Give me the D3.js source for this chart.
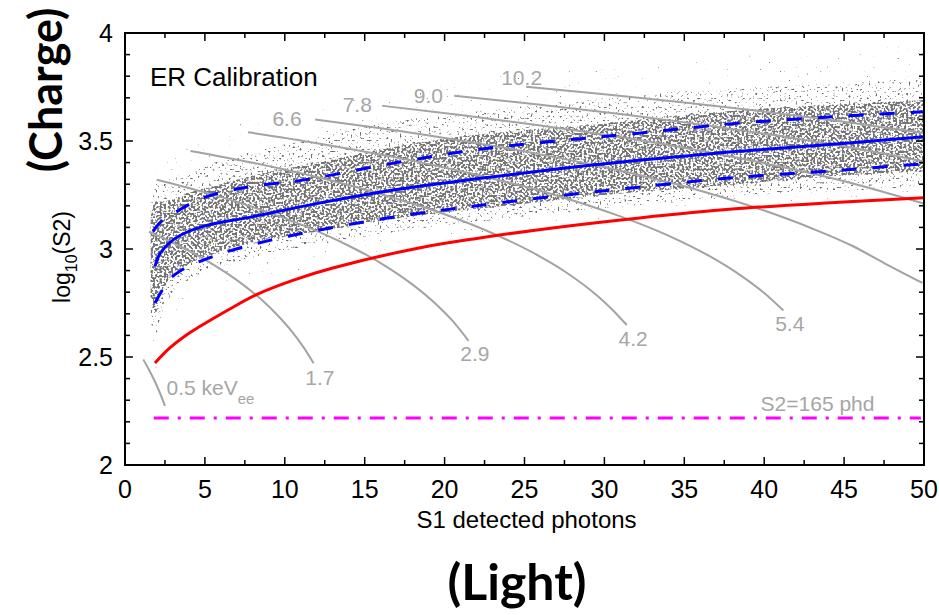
<!DOCTYPE html>
<html>
<head>
<meta charset="utf-8">
<script src="https://cdn.jsdelivr.net/npm/d3@7"></script>
<style>
  body { margin: 0; background: #fff; }
  text { font-family: "Liberation Sans", Arial, Helvetica, sans-serif; }
</style>
</head>
<body>
<svg id="chart" width="939" height="615"></svg>
<script>
// ---- values (x = S1 phd, y = log10 S2) ----

// ER band: mean and the two dashed lines
var meanS1 = [1.875, 2.2, 2.8, 3.5, 4.9, 8, 12, 17, 22, 27, 32, 38, 44.7, 50];
var meanY  = [2.92, 2.98, 3.03, 3.065, 3.105, 3.15, 3.21, 3.275, 3.325, 3.37, 3.41, 3.45, 3.487, 3.52];
var upS1   = [1.75, 2.3, 3.4, 4.5, 5.9, 8, 11.2, 17, 22, 27, 32, 38, 44.7, 50];
var upY    = [3.08, 3.13, 3.18, 3.225, 3.26, 3.29, 3.32, 3.40, 3.46, 3.50, 3.535, 3.58, 3.614, 3.635];
var loS1   = [1.875, 2.8, 3.6, 4.7, 6.5, 8.5, 11.2, 17, 22, 27, 32, 38, 44.7, 50];
var loY    = [2.75, 2.86, 2.905, 2.943, 2.99, 3.03, 3.074, 3.15, 3.20, 3.245, 3.285, 3.33, 3.364, 3.395];

// red line (NR median)
var redS1 = [1.875, 2.8, 3.8, 4.7, 6.5, 8.2, 10.5, 13, 18.4, 22.2, 27, 32.2, 38, 44.7, 50];
var redY  = [2.472, 2.542, 2.60, 2.642, 2.72, 2.788, 2.855, 2.912, 3.005, 3.051, 3.10, 3.144, 3.185, 3.216, 3.237];

// extent of the calibration point cloud (outer sparse, medium, dense core)
var cloudS1  = [1.6, 1.9, 2.3, 3, 4, 6, 8, 12, 16, 20, 25, 30, 35, 40, 45, 50];
var outerHi  = [3.30, 3.38, 3.40, 3.45, 3.50, 3.57, 3.62, 3.66, 3.72, 3.77, 3.82, 3.85, 3.88, 3.90, 3.93, 3.95];
var outerLo  = [2.55, 2.42, 2.52, 2.68, 2.76, 2.82, 2.85, 2.92, 2.98, 3.02, 3.06, 3.10, 3.13, 3.16, 3.18, 3.20];
var midHi    = [3.22, 3.30, 3.31, 3.33, 3.36, 3.41, 3.45, 3.52, 3.58, 3.62, 3.66, 3.70, 3.73, 3.75, 3.77, 3.79];
var midLo    = [2.68, 2.60, 2.70, 2.80, 2.86, 2.92, 2.96, 3.02, 3.07, 3.11, 3.15, 3.19, 3.22, 3.25, 3.27, 3.29];
var coreHi   = [3.14, 3.22, 3.22, 3.23, 3.26, 3.30, 3.34, 3.40, 3.46, 3.51, 3.55, 3.58, 3.62, 3.65, 3.67, 3.69];
var coreLo   = [2.78, 2.70, 2.80, 2.88, 2.93, 2.99, 3.03, 3.08, 3.13, 3.17, 3.21, 3.25, 3.28, 3.31, 3.34, 3.36];

// constant-energy contours (keVee), [S1, log10 S2] points along each grey curve
var energyNames = ["0.5", "1.7", "2.9", "4.2", "5.4", "6.6", "7.8", "9.0", "10.2"];
var e05  = [[1.15, 2.488], [1.5, 2.441], [1.9, 2.382], [2.2, 2.331], [2.5, 2.274]];
var e17  = [[1.5, 3.080], [3, 3.029], [5, 2.951], [7, 2.856], [8.5, 2.768], [9.5, 2.697], [10.5, 2.613], [11.2, 2.542], [11.8, 2.471]];
var e29  = [[2, 3.321], [5, 3.262], [8, 3.194], [11, 3.114], [14, 3.015], [16, 2.935], [18, 2.835], [19.5, 2.742], [20.5, 2.667], [21.5, 2.575]];
var e42  = [[4.1, 3.454], [8, 3.399], [12, 3.333], [16, 3.255], [20, 3.161], [23, 3.073], [25.5, 2.984], [27.5, 2.897], [29.5, 2.787], [30.5, 2.719], [31.4, 2.648]];
var e54  = [[7.7, 3.540], [12, 3.490], [17, 3.423], [22, 3.344], [27, 3.248], [31, 3.151], [34, 3.062], [36.5, 2.970], [38.5, 2.879], [40, 2.796], [41.2, 2.715]];
var e66  = [[11.9, 3.600], [16, 3.559], [21, 3.502], [26, 3.438], [31, 3.362], [36, 3.270], [40, 3.178], [43, 3.095], [45.5, 3.015], [47.5, 2.935], [49.9, 2.843]];
var e78  = [[16.1, 3.663], [21, 3.620], [26, 3.572], [31, 3.518], [36, 3.455], [41, 3.382], [45, 3.314], [50, 3.210]];
var e90  = [[20.6, 3.710], [26, 3.668], [31, 3.625], [36, 3.577], [41, 3.523], [46, 3.462], [50, 3.405]];
var e102 = [[25.1, 3.751], [30, 3.716], [35, 3.678], [40, 3.636], [45, 3.589], [50, 3.537]];
var contours = [e05, e17, e29, e42, e54, e66, e78, e90, e102];

// where each contour label sits (S1, log10 S2) and how it is anchored
var labelS1     = [2.6, 12.2, 21.9, 31.8, 41.6, 11.05, 15.45, 19.9, 26.1];
var labelY      = [2.326, 2.372, 2.48, 2.55, 2.622, 3.57, 3.632, 3.678, 3.76];
var labelAnchor = ["start", "middle", "middle", "middle", "middle", "end", "end", "end", "end"];

// S2 threshold line
var s2Threshold = 165;
var threshS1 = [1.8, 49.8];

// axis ticks
var xMajor = [0, 5, 10, 15, 20, 25, 30, 35, 40, 45, 50];
var yMajor = [2, 2.5, 3, 3.5, 4];

// ---- drawing ----
var L = 125, R = 924, T = 33, B = 465;

var svg = d3.select("#chart");
var x = d3.scaleLinear().domain([0, 50]).range([L, R]);
var y = d3.scaleLinear().domain([2, 4]).range([B, T]);

var defs = svg.append("defs");
defs.append("clipPath").attr("id", "plotclip")
  .append("rect").attr("x", L).attr("y", T).attr("width", R - L).attr("height", B - T);

// speckle filters: noise thresholded inside the band shape -> dotted look
function speckle(id, thresh, grey, seed) {
  var f = defs.append("filter").attr("id", id)
    .attr("x", 0).attr("y", 0).attr("width", 1).attr("height", 1)
    .attr("color-interpolation-filters", "sRGB");
  f.append("feTurbulence").attr("type", "fractalNoise")
    .attr("baseFrequency", 0.45).attr("numOctaves", 1).attr("seed", seed).attr("result", "n");
  var k = 10;
  f.append("feColorMatrix").attr("in", "n").attr("type", "matrix")
    .attr("values", "0 0 0 0 " + grey + " 0 0 0 0 " + grey + " 0 0 0 0 " + grey + " " + k + " 0 0 0 " + (-k * thresh))
    .attr("result", "d");
  f.append("feComposite").attr("in", "d").attr("in2", "SourceGraphic").attr("operator", "in");
}
speckle("spkOuter", 0.73, 0.42, 5);
speckle("spkMid", 0.62, 0.43, 5);
speckle("spkCore", 0.45, 0.46, 5);

var plot = svg.append("g").attr("clip-path", "url(#plotclip)");

function band(hi, lo) {
  return d3.area().curve(d3.curveMonotoneX)
    .x(function(d, i) { return x(cloudS1[i]); })
    .y0(function(d, i) { return y(lo[i]); })
    .y1(function(d, i) { return y(hi[i]); })(cloudS1);
}
plot.append("path").attr("d", band(outerHi, outerLo)).attr("fill", "#000").attr("filter", "url(#spkOuter)");
plot.append("path").attr("d", band(midHi, midLo)).attr("fill", "#000").attr("filter", "url(#spkMid)");
plot.append("path").attr("d", band(coreHi, coreLo)).attr("fill", "#000").attr("filter", "url(#spkCore)");

var line = d3.line().curve(d3.curveMonotoneX)
  .x(function(d) { return x(d[0]); })
  .y(function(d) { return y(d[1]); });
var smooth = d3.line().curve(d3.curveCatmullRom.alpha(0.5))
  .x(function(d) { return x(d[0]); })
  .y(function(d) { return y(d[1]); });

function zipXY(a, b) { return a.map(function(v, i) { return [v, b[i]]; }); }

// energy contours
plot.selectAll("path.contour").data(contours).enter().append("path")
  .attr("class", "contour")
  .attr("d", line)
  .attr("fill", "none").attr("stroke", "#a3a3a3").attr("stroke-width", 2);

// red curve
plot.append("path").attr("d", smooth(zipXY(redS1, redY)))
  .attr("fill", "none").attr("stroke", "#ff0000").attr("stroke-width", 3);

// ER band lines
plot.append("path").attr("d", smooth(zipXY(upS1, upY)))
  .attr("fill", "none").attr("stroke", "#0000ff").attr("stroke-width", 3).attr("stroke-dasharray", "15,16");
plot.append("path").attr("d", smooth(zipXY(loS1, loY)))
  .attr("fill", "none").attr("stroke", "#0000ff").attr("stroke-width", 3).attr("stroke-dasharray", "15,16");
plot.append("path").attr("d", smooth(zipXY(meanS1, meanY)))
  .attr("fill", "none").attr("stroke", "#0000ff").attr("stroke-width", 3);

// S2 threshold
var ty = Math.log10(s2Threshold);
plot.append("line")
  .attr("x1", x(threshS1[0])).attr("x2", x(threshS1[1]))
  .attr("y1", y(ty)).attr("y2", y(ty))
  .attr("stroke", "#ff00ff").attr("stroke-width", 3)
  .attr("stroke-dasharray", "15,9,3,9");

// contour labels
var lab = svg.append("g").attr("fill", "#a6a6a6").attr("font-size", 21);
energyNames.forEach(function(name, i) {
  var t = lab.append("text")
    .attr("x", x(labelS1[i])).attr("y", y(labelY[i]))
    .attr("text-anchor", labelAnchor[i]);
  if (i === 0) {
    t.text(name + " keV");
    t.append("tspan").attr("font-size", 15).attr("dy", 9).text("ee");
  } else {
    t.text(name);
  }
});
lab.append("text").attr("x", x(46.9)).attr("y", y(ty) - 7).attr("text-anchor", "end")
  .text("S2=" + s2Threshold + " phd");

// frame and ticks (inward, all four sides)
var axes = svg.append("g");
axes.append("rect").attr("x", L).attr("y", T).attr("width", R - L).attr("height", B - T)
  .attr("fill", "none").attr("stroke", "#000").attr("stroke-width", 2);

var xTicks = d3.range(0, 50.01, 2.5);
var yTicks = d3.range(2, 4.001, 0.1);
xTicks.forEach(function(v) {
  var len = (v % 5 === 0) ? 8 : 5;
  axes.append("line").attr("x1", x(v)).attr("x2", x(v)).attr("y1", B).attr("y2", B - len).attr("stroke", "#000").attr("stroke-width", 1.5);
  axes.append("line").attr("x1", x(v)).attr("x2", x(v)).attr("y1", T).attr("y2", T + len).attr("stroke", "#000").attr("stroke-width", 1.5);
});
yTicks.forEach(function(v) {
  var major = Math.abs(v * 2 - Math.round(v * 2)) < 1e-6;
  var len = major ? 8 : 5;
  axes.append("line").attr("x1", L).attr("x2", L + len).attr("y1", y(v)).attr("y2", y(v)).attr("stroke", "#000").attr("stroke-width", 1.5);
  axes.append("line").attr("x1", R).attr("x2", R - len).attr("y1", y(v)).attr("y2", y(v)).attr("stroke", "#000").attr("stroke-width", 1.5);
});

axes.selectAll("text.xt").data(xMajor).enter().append("text")
  .attr("class", "xt").attr("x", function(d) { return x(d); }).attr("y", B + 33)
  .attr("text-anchor", "middle").attr("font-size", 25).text(function(d) { return d; });
axes.selectAll("text.yt").data(yMajor).enter().append("text")
  .attr("class", "yt").attr("x", L - 12).attr("y", function(d) { return y(d) + 9; })
  .attr("text-anchor", "end").attr("font-size", 25).text(function(d) { return d; });

// axis titles
svg.append("text").attr("x", (L + R) / 2 + 2).attr("y", 528).attr("text-anchor", "middle")
  .attr("font-size", 24).text("S1 detected photons");
var yl = svg.append("text").attr("transform", "translate(70," + ((T + B) / 2 + 8) + ") rotate(-90)")
  .attr("text-anchor", "middle").attr("font-size", 23);
yl.append("tspan").text("log");
yl.append("tspan").attr("font-size", 16).attr("dy", 7).text("10");
yl.append("tspan").attr("dy", -7).text("(S2)");

svg.append("text").attr("x", 150).attr("y", 86).attr("font-size", 26).attr("fill", "#000").text("ER Calibration");

// big annotations
svg.append("text").attr("transform", "translate(62,90) rotate(-90)")
  .attr("text-anchor", "middle").attr("font-size", 45).attr("font-weight", "bold")
  .style("font-family", "Lato, 'Open Sans', sans-serif").text("(Charge)");
svg.append("text").attr("x", 517).attr("y", 600)
  .attr("text-anchor", "middle").attr("font-size", 50).attr("font-weight", "bold")
  .style("font-family", "Lato, 'Open Sans', sans-serif").text("(Light)");
</script>
</body>
</html>
